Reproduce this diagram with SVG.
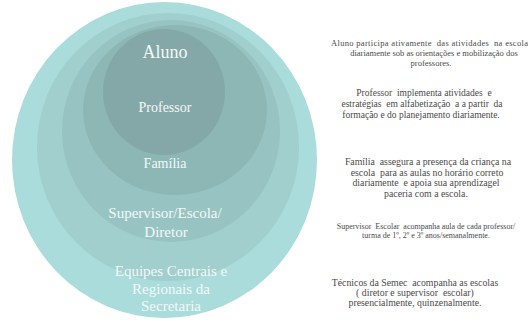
<svg xmlns="http://www.w3.org/2000/svg" width="531" height="321" viewBox="0 0 531 321">
<style>
.c{font-family:"Liberation Serif","DejaVu Serif",serif;fill:#f4f8f8;text-anchor:middle}
.d{font-family:"Liberation Serif","DejaVu Serif",serif;fill:#4a4a4a;text-anchor:middle;white-space:pre}
</style>
<rect width="531" height="321" fill="#ffffff"/>
<g id="equipes"><ellipse cx="164.5" cy="160" rx="152.5" ry="158" fill="#a9dcdb"/></g>
<g id="supervisor"><ellipse cx="168" cy="147" rx="131" ry="134" fill="#a0cfcd"/></g>
<g id="familia"><ellipse cx="171" cy="131" rx="109" ry="111" fill="#97c4c2"/></g>
<g id="professor"><ellipse cx="175" cy="110" rx="92" ry="85" fill="#8db7b5"/></g>
<g id="aluno"><ellipse cx="164" cy="92" rx="61" ry="63" fill="#84a8a7"/></g>
<g id="labels">
<text class="c" x="165" y="58" font-size="18">Aluno</text>
<text class="c" x="165" y="112" font-size="14">Professor</text>
<text class="c" x="165" y="168" font-size="14">Família</text>
<text class="c" x="165" y="218" font-size="15">Supervisor/Escola/</text>
<text class="c" x="166" y="237" font-size="15">Diretor</text>
<text class="c" x="171" y="276" font-size="15">Equipes Centrais e</text>
<text class="c" x="171" y="294" font-size="15">Regionais da</text>
<text class="c" x="171" y="311" font-size="15">Secretaria</text>
</g>
<g id="descriptions">
<text class="d" font-size="8.5"><tspan x="331" y="46" text-anchor="start" textLength="197" lengthAdjust="spacing">Aluno participa ativamente  das atividades  na escola</tspan><tspan x="434" y="56">diariamente sob as orientações e mobilização dos</tspan><tspan x="431" y="66">professores.</tspan></text>
<text class="d" font-size="9.5"><tspan x="424" y="96">Professor  implementa atividades  e</tspan><tspan x="422" y="107">estratégias  em alfabetização  a a partir  da</tspan><tspan x="421" y="118">formação e do planejamento diariamente.</tspan></text>
<text class="d" font-size="9.8"><tspan x="428" y="165">Família  assegura a presença da criança na</tspan><tspan x="427" y="175.5">escola  para as aulas no horário correto</tspan><tspan x="426" y="186">diariamente  e apoia sua aprendizagel</tspan><tspan x="426" y="196.5">paceria com a escola.</tspan></text>
<text class="d" font-size="8"><tspan x="426" y="229">Supervisor  Escolar  acompanha aula de cada professor/</tspan><tspan x="426" y="238">turma de 1º, 2º e 3º anos/semanalmente.</tspan></text>
<text class="d" font-size="9.8"><tspan x="415" y="286">Técnicos da Semec  acompanha as escolas</tspan><tspan x="415" y="296">( diretor e supervisor  escolar)</tspan><tspan x="415" y="306">presencialmente, quinzenalmente.</tspan></text>
</g>
</svg>
